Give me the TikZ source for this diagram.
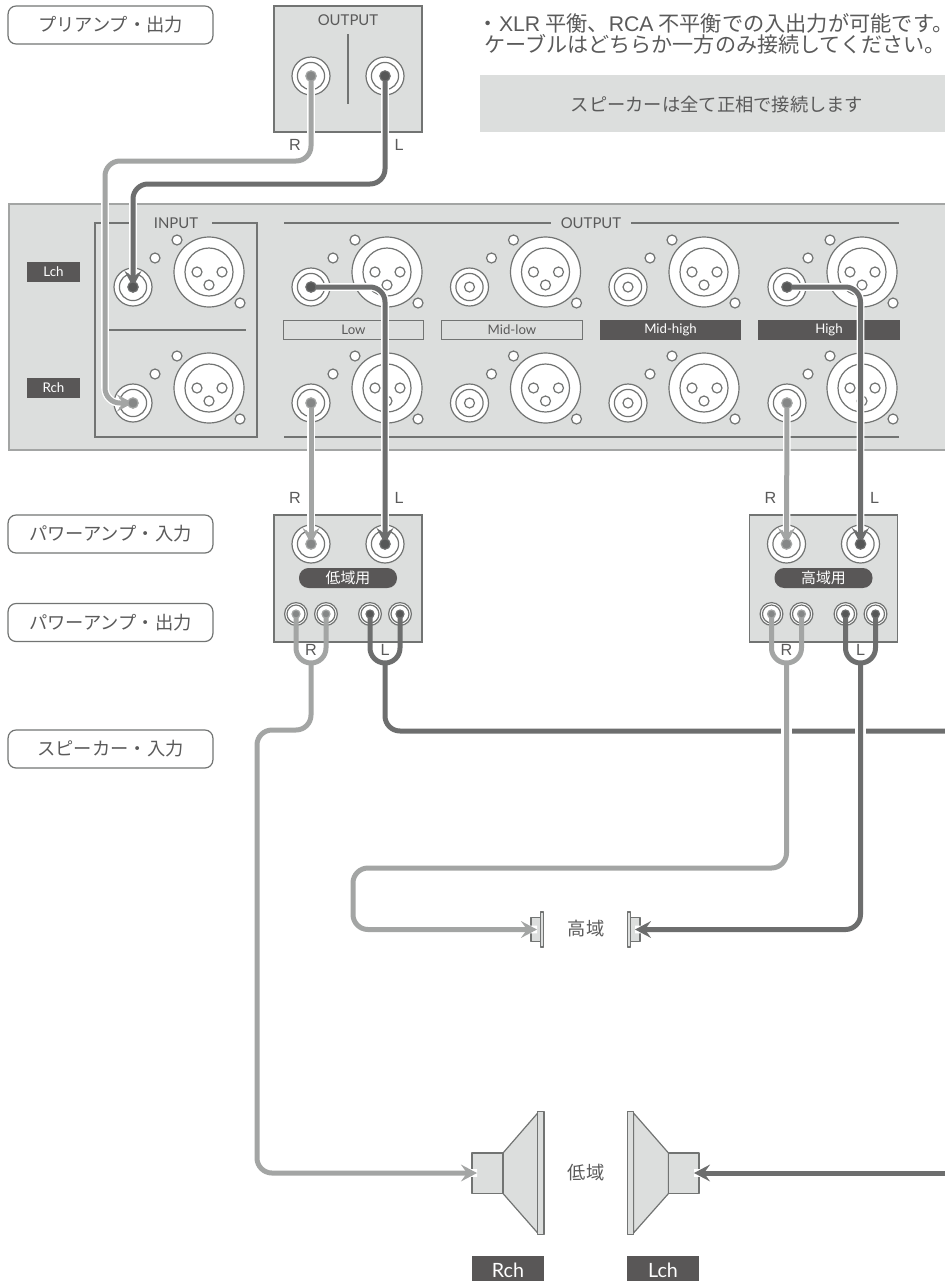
\documentclass[tikz,border=0pt]{standalone}
\usepackage{fontspec}
\setmainfont{Lato}
\newfontfamily\jpfont{Noto Sans CJK JP}
\newfontfamily\lblfont{Liberation Sans}
\usetikzlibrary{arrows.meta,positioning,calc}
\definecolor{apanel}{HTML}{DCDEDD}
\definecolor{aline}{HTML}{727473}
\definecolor{alabel}{HTML}{595757}
\definecolor{atext}{HTML}{5A5A5A}
\definecolor{acabr}{HTML}{A3A5A4}
\definecolor{acabl}{HTML}{6D6E6E}
\definecolor{adotr}{HTML}{858787}
\definecolor{adotl}{HTML}{565757}
\tikzset{
  panelb/.style  = {draw=acabr, line width=0.45mm, fill=apanel},
  hair/.style    = {draw=aline, line width=0.3mm},
  rcaout/.style  = {circle, fill=white, hair, inner sep=0pt, minimum size=9.5mm},
  rcaring/.style = {circle, hair, inner sep=0pt, minimum size=6.8mm},
  rcahole/.style = {circle, fill=white, hair, inner sep=0pt, minimum size=2.5mm},
  spkout/.style  = {circle, fill=white, hair, inner sep=0pt, minimum size=5.7mm},
  spkring/.style = {circle, hair, inner sep=0pt, minimum size=4.5mm},
  xlrout/.style  = {circle, fill=white, hair, inner sep=0pt, minimum size=17.5mm},
  xlrin/.style   = {circle, hair, inner sep=0pt, minimum size=12mm},
  plugr/.style   = {circle, fill=adotr, draw=acabr, line width=0.3mm, inner sep=0pt, minimum size=2.6mm},
  plugl/.style   = {circle, fill=adotl, draw=acabl, line width=0.3mm, inner sep=0pt, minimum size=2.6mm},
  chbox/.style   = {fill=alabel, text=white, inner sep=0pt, minimum height=5mm, font=\fontsize{9.5}{11}\selectfont},
  bandw/.style   = {draw=aline, line width=0.25mm, fill=apanel, text=atext, inner sep=0pt,
                    minimum width=35.2mm, minimum height=4.9mm, font=\fontsize{9.4}{11}\selectfont},
  bandd/.style   = {bandw, fill=alabel, draw=alabel, text=white},
  stage/.style   = {rounded corners=2mm, draw=aline, line width=0.3mm, inner sep=0pt, text=atext,
                    minimum width=51.2mm, minimum height=9.5mm, font=\jpfont\fontsize{13}{15}\selectfont},
  jp/.style      = {text=atext, inner sep=0pt, font=\jpfont\fontsize{13}{15}\selectfont},
  note/.style    = {jp, anchor=west, font=\jpfont\fontsize{15}{18}\selectfont},
  rl/.style      = {text=atext, inner sep=0pt, font=\lblfont\fontsize{11.5}{13}\selectfont},
  ttl/.style     = {text=atext, inner sep=0pt, font=\fontsize{10.6}{12}\selectfont},
  pill/.style    = {rounded corners=2.4mm, fill=alabel, text=white, inner sep=0pt, minimum width=24.5mm,
                    minimum height=5mm, font=\jpfont\fontsize{10.6}{12}\selectfont},
  spk/.style     = {draw=aline, line width=0.3mm, fill=apanel, line join=round},
  cabs/.style    = {line width=1.25mm, rounded corners=3.75mm},
  cab/.style     = {cabs, preaction={draw=white, line width=1.9mm, -}},
  cabr/.style    = {cab, draw=acabr},
  cabl/.style    = {cab, draw=acabl},
  tip/.style     = {-{Stealth[length=4mm,width=4.2mm,inset=1.5mm]}},
}
\begin{document}
\begin{tikzpicture}[x=0.25mm,y=-0.25mm]
\useasboundingbox (0,0) rectangle (945,1281);
\clip (0,0) rectangle (945,1281);

% \rca{name}{x}{y}  = phono socket        \xlr{name}{x}{y} = balanced socket
\def\rca#1#2#3{\node[rcaout] (#1) at (#2,#3) {};
   \node[rcaring] (#1-r) at (#1) {};}
\def\sjack#1#2#3{\node[spkout] (#1) at (#2,#3) {};
   \node[spkring] (#1-r) at (#1) {};}
\def\xlr#1#2#3{\node[xlrout] (#1) at (#2,#3) {};
   \node[xlrin] (#1-r) at (#1) {};
   \node[rcahole] (#1-a) at ($(#1)+(-12,0)$) {};
   \node[rcahole] (#1-b) at ($(#1)+(13,0)$) {};
   \node[rcahole] (#1-c) at ($(#1)+(0,13)$) {};
   \node[rcahole] (#1-d) at ($(#1)+(-32,-32)$) {};
   \node[rcahole] (#1-e) at ($(#1)+(-54,-14)$) {};
   \node[rcahole] (#1-f) at ($(#1)+(31,31)$) {};}

% -- stage labels (left) -----------------------------------------------------
\foreach \n/\y/\t in {pre/25/プリアンプ・出力, ampin/534/パワーアンプ・入力,
                      ampout/622.5/パワーアンプ・出力, spkin/749/スピーカー・入力}{
  \node[stage] (st-\n) at (110.5,\y) {\t};
}

% -- notes (top right) -------------------------------------------------------
\node[note, font=\jpfont\fontsize{15.1}{18}\selectfont] (note1) at (477.5,23) {・{\lblfont XLR} 平衡、{\lblfont RCA} 不平衡での入出力が可能です。};
\node[note] (note2) at (484,44) {ケーブルはどちらか一方のみ接続してください。};
\fill[apanel] (480,75) rectangle (946,132);
\node[jp] (note3) at (717,105) {スピーカーは全て正相で接続します};

% -- preamp ------------------------------------------------------------------
\draw[panelb, draw=aline, line width=0.3mm] (274,6) rectangle (422,132);
\node[ttl] (preout) at (348,20) {OUTPUT};
\draw[hair] (348,34) -- (348,104);
\rca{preR}{311}{76}
\rca{preL}{385}{76}
\node[rl] (preRt) at (295,145) {R};
\node[rl] (preLt) at (399,145) {L};

% -- crossover panel ---------------------------------------------------------
\draw[panelb] (9,204) rectangle (960,450);
\node[chbox, minimum width=13.2mm] (chL) at (53.5,272) {Lch};
\node[chbox, minimum width=13.2mm] (chR) at (53.5,388) {Rch};

\draw[hair] (130,223) -- (95,223) -- (95,437) -- (257,437) -- (257,223) -- (212,223);
\node[ttl] (intt) at (176,223) {INPUT};
\draw[hair] (109,330) -- (246,330);
\draw[hair] (284,223) -- (551,223);
\node[ttl] (outt) at (591,223) {OUTPUT};
\draw[hair] (631,223) -- (899,223);
\draw[hair] (284,437) -- (899,437);

\rca{inL}{133}{287}
\rca{inR}{133}{403}
\xlr{inLx}{209}{272}
\xlr{inRx}{209}{388}
\foreach \n/\a/\b in {low/311/387, mlow/469.5/545.5, mhigh/628/704, high/787/862}{
  \rca{\n L}{\a}{287}
  \rca{\n R}{\a}{403}
  \xlr{\n Lx}{\b}{272}
  \xlr{\n Rx}{\b}{388}
}
\node[bandw] (bLow) at (353.5,330) {Low};
\node[bandw] (bMlow) at (512,330) {Mid-low};
\node[bandd] (bMhigh) at (670.5,330) {Mid-high};
\node[bandd] (bHigh) at (829,330) {High};

% -- unused sockets ----------------------------------------------------------
\foreach \n in {mlowL,mlowR,mhighL,mhighR}{
  \node[rcahole] (\n-p) at (\n) {};
}

% -- power amps --------------------------------------------------------------
\foreach \n/\a/\t in {low/274/低域用, high/749.5/高域用}{
  \draw[panelb, draw=aline, line width=0.3mm] (\a,515) rectangle ++(148,127);
  \rca{amp\n R}{\a+37}{544}
  \rca{amp\n L}{\a+111}{544}
  \node[pill] (pill\n) at (\a+74,578) {\t};
  \sjack{sp\n Ra}{\a+22}{614}
  \sjack{sp\n Rb}{\a+52}{614}
  \sjack{sp\n La}{\a+96}{614}
  \sjack{sp\n Lb}{\a+126}{614}
  \node[rl] (rt\n) at (\a+21,498) {R};
  \node[rl] (lt\n) at (\a+125,498) {L};
  \coordinate (u\n R) at (\a+37,663);
  \coordinate (u\n L) at (\a+111,663);
}

% -- drivers -----------------------------------------------------------------
\draw[spk] (531,917.5) rectangle (540.3,941.5);
\draw[spk] (540.3,912) rectangle (543.7,947);
\draw[spk] (640,917.5) rectangle (630.7,941.5);
\draw[spk] (630.7,912) rectangle (627.3,947);
\draw[spk] (503,1153) -- (537.7,1113) -- (537.7,1233) -- (503,1193.5) -- cycle;
\draw[spk] (472,1153) rectangle (503,1193.5);
\draw[spk] (537.7,1111.5) rectangle (544,1234.5);
\draw[spk] (668.5,1153) -- (633.5,1113) -- (633.5,1233) -- (668.5,1193.5) -- cycle;
\draw[spk] (699,1153) rectangle (668.5,1193.5);
\draw[spk] (633.5,1111.5) rectangle (627.3,1234.5);
\node[jp] (thigh) at (586,929) {高域};
\node[jp] (tlow) at (586,1173) {低域};
\node[chbox, minimum width=18mm, minimum height=7mm, anchor=north, font=\fontsize{14}{16}\selectfont] (spR) at (508,1256) {Rch};
\node[chbox, minimum width=18mm, minimum height=7mm, anchor=north, font=\fontsize{14}{16}\selectfont] (spL) at (663,1256) {Lch};

% -- free cable ends ---------------------------------------------------------
\coordinate (tipHighR) at (537,929.5);
\coordinate (tipHighL) at (635,929.5);
\coordinate (tipLowR) at (477,1173);
\coordinate (tipLowL) at (694,1173);
\coordinate (edge731) at (950,731);
\coordinate (edge1173) at (950,1173);

% -- the cables --------------------------------------------------------------
\draw[cabr, tip] (preR.center) |- (105,161) |- (inR.center);
\draw[cabl, tip] (preL.center) -- ++(0,108) -| (inL.center);
\draw[cabr, tip] (lowR.center) -- (amplowR.center);
\draw[cabl, tip] (lowL.center) -| (amplowL.center);
\draw[cabr, tip] (highR.center) -- (amphighR.center);
\draw[cabl, tip] (highL.center) -| (amphighL.center);

\draw[cabl] (ulowL) |- (edge731);
\fill[white] ($(uhighR |- edge731)+(-5.5,-5)$) rectangle ++(11,10);
\fill[white] ($(uhighL |- edge731)+(-5.5,-5)$) rectangle ++(11,10);
\draw[cabr, tip] (ulowR) |- (257,730) |- (tipLowR);
\draw[cabr, tip] (uhighR) |- (353,868) |- (tipHighR);
\draw[cabl, tip] (uhighL) |- (tipHighL);
\draw[cabl, tip] (edge1173) -- (tipLowL);

% -- speaker links -----------------------------------------------------------
\foreach \n in {low,high}{
  \draw[cabs, draw=acabr] (sp\n Ra.center) -- (sp\n Ra |- u\n R) -- (sp\n Rb |- u\n R) -- (sp\n Rb.center);
  \draw[cabs, draw=acabl] (sp\n La.center) -- (sp\n La |- u\n L) -- (sp\n Lb |- u\n L) -- (sp\n Lb.center);
  \node[rl] (rr\n) at ($(u\n R)+(0,-13)$) {R};
  \node[rl] (ll\n) at ($(u\n L)+(0,-13)$) {L};
}

% -- plugs -------------------------------------------------------------------
\foreach \n in {preR,inR,lowR,amplowR,highR,amphighR}{
  \node[plugr] (\n-p) at (\n) {};
}
\foreach \n in {preL,inL,lowL,amplowL,highL,amphighL}{
  \node[plugl] (\n-p) at (\n) {};
}
\foreach \n in {splowRa,splowRb,sphighRa,sphighRb}{
  \node[plugr, minimum size=2mm] (\n-p) at (\n) {};
}
\foreach \n in {splowLa,splowLb,sphighLa,sphighLb}{
  \node[plugl, minimum size=2mm] (\n-p) at (\n) {};
}
\end{tikzpicture}
\end{document}
